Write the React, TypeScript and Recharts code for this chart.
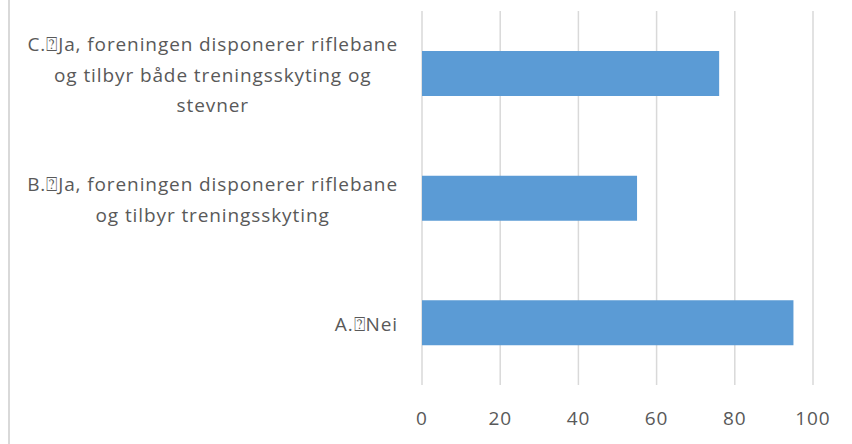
import React from "react";
import { BarChart, Bar, XAxis, YAxis, CartesianGrid } from "recharts";

const categories = ["A", "B", "C"];
const values = [95, 55, 76];
const tickLabels: string[][] = [
  ["A.\u2370Nei"],
  ["B.\u2370Ja, foreningen disponerer riflebane", "og tilbyr treningsskyting"],
  ["C.\u2370Ja, foreningen disponerer riflebane", "og tilbyr både treningsskyting og", "stevner"],
];
const xTicks = [0, 20, 40, 60, 80, 100];

const data = categories.map((c, i) => ({ cat: c, value: values[i] }));

const FONT = "'Open Sans', 'DejaVu Sans', sans-serif";
const FS = 19;
const LS = 0.9;
const TEXT = "#595959";

let ctx: CanvasRenderingContext2D | null = null;
function measure(s: string): number {
  if (!ctx) {
    const c = document.createElement("canvas");
    ctx = c.getContext("2d");
  }
  if (!ctx) return s.length * 9;
  ctx.font = `${FS}px 'Open Sans', 'DejaVu Sans'`;
  return ctx.measureText(s).width + s.length * LS;
}

const YTick = (props: any) => {
  const { x, y, payload } = props;
  const idx = categories.indexOf(payload.value);
  const lines = tickLabels[idx] || [String(payload.value)];
  const maxW = Math.max(...lines.map(measure));
  const cx = x - maxW / 2;
  const n = lines.length;
  const lh = 30.5;
  return (
    <text
      textAnchor="middle"
      fill={TEXT}
      style={{ fontFamily: FONT, fontSize: FS, letterSpacing: LS }}
    >
      {lines.map((l, i) => (
        <tspan key={i} x={cx} y={y + 8.5 + (i - (n - 1) / 2) * lh}>
          {l}
        </tspan>
      ))}
    </text>
  );
};

export default function App() {
  return (
    <div style={{ position: "relative", width: 852, height: 444, background: "#fff" }}>
      <style>{`body{margin:0;}`}</style>
      <div
        style={{
          position: "absolute",
          left: 8,
          top: 0,
          width: 1.5,
          height: 444,
          background: "#d9d9d9",
        }}
      />
      <BarChart
        width={852}
        height={444}
        data={data}
        layout="vertical"
        margin={{ top: 11, right: 39, bottom: 0, left: 0 }}
      >
        <CartesianGrid horizontal={false} stroke="#d9d9d9" strokeWidth={1.5} />
        <XAxis
          type="number"
          domain={[0, 100]}
          ticks={xTicks}
          axisLine={false}
          tickLine={false}
          tickSize={0}
          tickMargin={27}
          height={59}
          interval={0}
          tick={{ fill: TEXT, fontSize: FS, fontFamily: FONT, letterSpacing: LS } as any}
        />
        <YAxis
          type="category"
          dataKey="cat"
          reversed
          width={422}
          axisLine={false}
          tickLine={false}
          tickSize={0}
          tickMargin={24}
          interval={0}
          tick={<YTick />}
        />
        <Bar dataKey="value" fill="#5b9bd5" barSize={45} isAnimationActive={false} />
      </BarChart>
    </div>
  );
}
